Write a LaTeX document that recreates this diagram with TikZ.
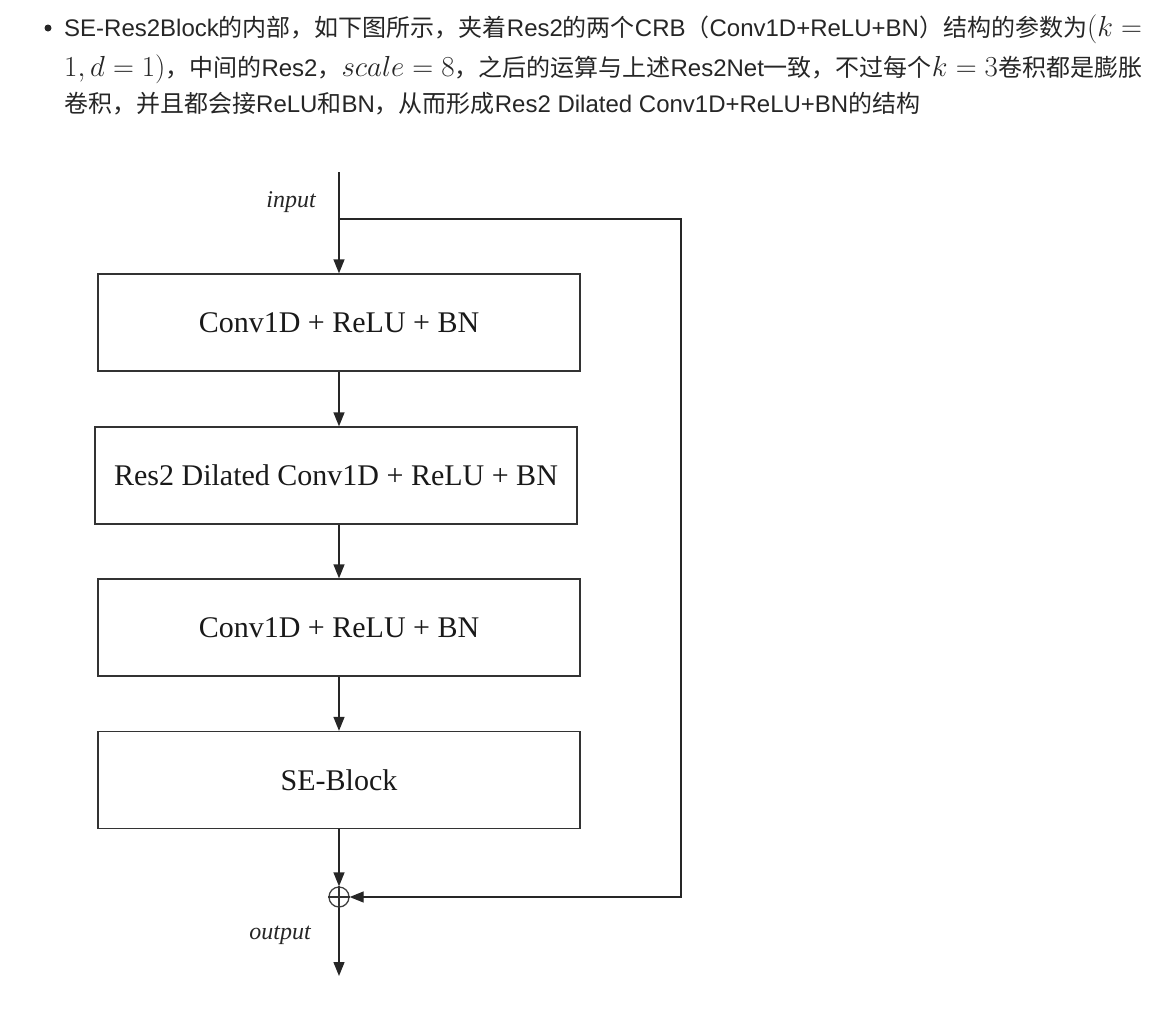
\RequirePackage{fix-cm}
\documentclass[tikz,border=0pt]{standalone}
\usepackage{fontspec}
\setmainfont{Liberation Serif}
\setsansfont{Liberation Sans}
\newfontfamily\cjk{Noto Sans CJK SC}
\usetikzlibrary{positioning,arrows.meta}
\newcommand{\kmath}[1]{{\fontsize{29}{34}\selectfont$#1$}}
\newcommand{\zh}[1]{{\cjk #1}}

\begin{document}
\begin{tikzpicture}[x=1pt,y=-1pt,
    block/.style={draw=black!80, line width=1.3pt, minimum width=482pt, minimum height=97pt,
      font=\fontsize{30}{34}\selectfont, text=black!90},
    flow/.style={-{Triangle[length=14pt,width=11pt]}, line width=1.3pt, draw=black!85},
    para/.style={anchor=base west, inner sep=0, text=black!85, font=\sffamily\fontsize{24}{28}\selectfont},
    tag/.style={font=\itshape\fontsize{24}{28}\selectfont, text=black!85}]
    \useasboundingbox (0,0) rectangle (1173,1023);
    % text above the picture
    \fill[black!85] (48,28) circle (3.5pt);
    \node[para] (line1) at (64,36) {SE-Res2Block\zh{的内部，如下图所示，夹着}Res2\zh{的两个}CRB\zh{（}Conv1D+ReLU+BN\zh{）结构的参数为}\kmath{(k =}};
    \node[para] (line2) at (64,76) {\kmath{1, d = 1)}\zh{，中间的}Res2\zh{，}\kmath{scale = 8}\zh{，之后的运算与上述}Res2Net\zh{一致，不过每个}\kmath{k = 3}\zh{卷积都是膨胀}};
    \node[para] (line3) at (64,112) {\zh{卷积，并且都会接}ReLU\zh{和}BN\zh{，从而形成}Res2 Dilated Conv1D+ReLU+BN\zh{的结构}};
    % blocks
    \node[block] (crb1) at (339,322.5) {Conv1D + ReLU + BN};
    \node[block] (res2) at (336,475.5) {Res2 Dilated Conv1D + ReLU + BN};
    \node[block] (crb2) at (339,627.5) {Conv1D + ReLU + BN};
    \node[block] (se) at (339,780) {SE-Block};
    \node[circle, draw=black!75, line width=1.3pt, inner sep=0, minimum size=20pt] (sum) at (339,897) {};
    \draw[black!80, line width=1.3pt] (sum.north) -- (sum.south) (sum.west) -- (sum.east);
    \coordinate (in) at (339,172);
    \coordinate (split) at (339,219);
    \coordinate (corner) at (681,219);
    \coordinate (out) at (339,976);
    \node[tag] (intag) at (291,202) {input};
    \node[tag] (outtag) at (280,935) {output};
    % connectors
    \draw[flow] (in) -- (crb1);
    \draw[flow] (crb1) -- (crb1.south |- res2.north);
    \draw[flow] (crb1.south |- res2.south) -- (crb2);
    \draw[flow] (crb2) -- (se);
    \draw[flow] (se) -- (sum);
    \draw[flow] (split) -- (corner) -- (corner |- sum) -- (sum);
    \draw[flow] (sum) -- (out);
\end{tikzpicture}
\end{document}
